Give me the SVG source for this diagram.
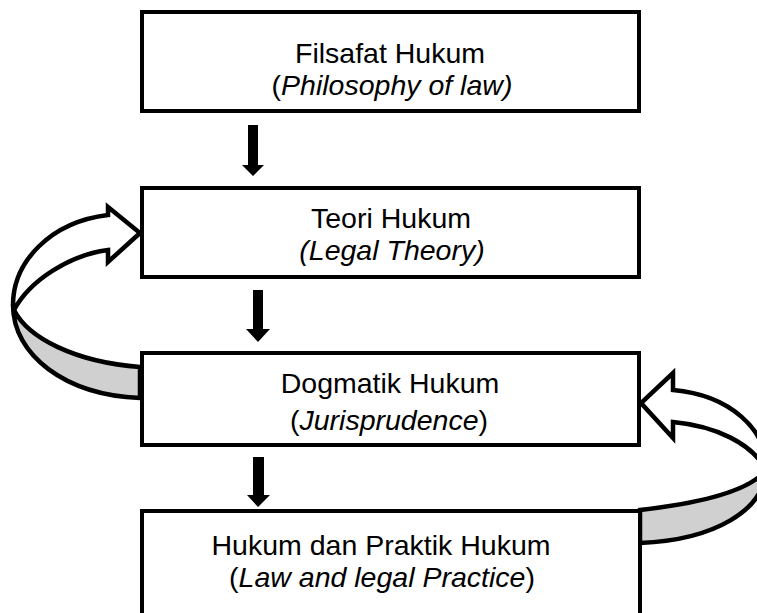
<svg xmlns="http://www.w3.org/2000/svg" width="757" height="613" viewBox="0 0 757 613">
<style>
.box{fill:#fff;stroke:#000;stroke-width:4}
.t{font-family:"Liberation Sans",Arial,sans-serif;font-size:28.5px;fill:#000;text-anchor:middle}
.i{font-style:italic}
.blk{fill:#000;stroke:none}
.cw{fill:#fff;stroke:#000;stroke-width:4.5;stroke-linejoin:miter}
.cg{fill:#d0d0d0;stroke:#000;stroke-width:4.5}
</style>
<rect width="757" height="613" fill="#fff"/>
<g id="connectors">
  <polygon class="blk" points="248,125 258,125 258,165 264,165 253,176 242,165 248,165"/>
  <polygon class="blk" points="253,290 263,290 263,329 270,329 258,342 246,329 253,329"/>
  <polygon class="blk" points="253,457 264,457 264,495 270,495 258,507 247,495 253,495"/>
  <g id="loop-left">
    <path class="cg" d="M14,310 C28,338 75,362 140,367 L140,398 C65,395 13,355 13,305 Z"/>
    <path class="cw" d="M13,305 C13,262 50,222 108,215 L108,207 L140,233 L108,262 L108,250 C70,255 30,280 14,310 Z"/>
  </g>
  <g id="loop-right">
    <path class="cg" d="M766,470 C752,488 710,502 640,510 L640,543 C715,540 764,510 766,470 Z"/>
    <path class="cw" d="M673,390 C730,395 768,430 766,470 C752,443 715,426 673,422 L673,438 L641,403 L673,373 Z"/>
  </g>
</g>
<g id="node-filsafat">
  <rect class="box" x="142" y="12" width="497" height="99"/>
  <text class="t" x="390" y="63">Filsafat Hukum</text>
  <text class="t" x="392" y="95">(<tspan class="i">Philosophy of law)</tspan></text>
</g>
<g id="node-teori">
  <rect class="box" x="142" y="188" width="497" height="89"/>
  <text class="t" x="391" y="228">Teori Hukum</text>
  <text class="t i" x="392" y="260">(Legal Theory)</text>
</g>
<g id="node-dogmatik">
  <rect class="box" x="142" y="353" width="497" height="92"/>
  <text class="t" x="390" y="393">Dogmatik Hukum</text>
  <text class="t" x="389" y="430">(<tspan class="i">Jurisprudence</tspan>)</text>
</g>
<g id="node-praktik">
  <rect class="box" x="142" y="511" width="498" height="110"/>
  <text class="t" x="381" y="555">Hukum dan Praktik Hukum</text>
  <text class="t" x="382" y="587">(<tspan class="i">Law and legal Practice</tspan>)</text>
</g>
</svg>
